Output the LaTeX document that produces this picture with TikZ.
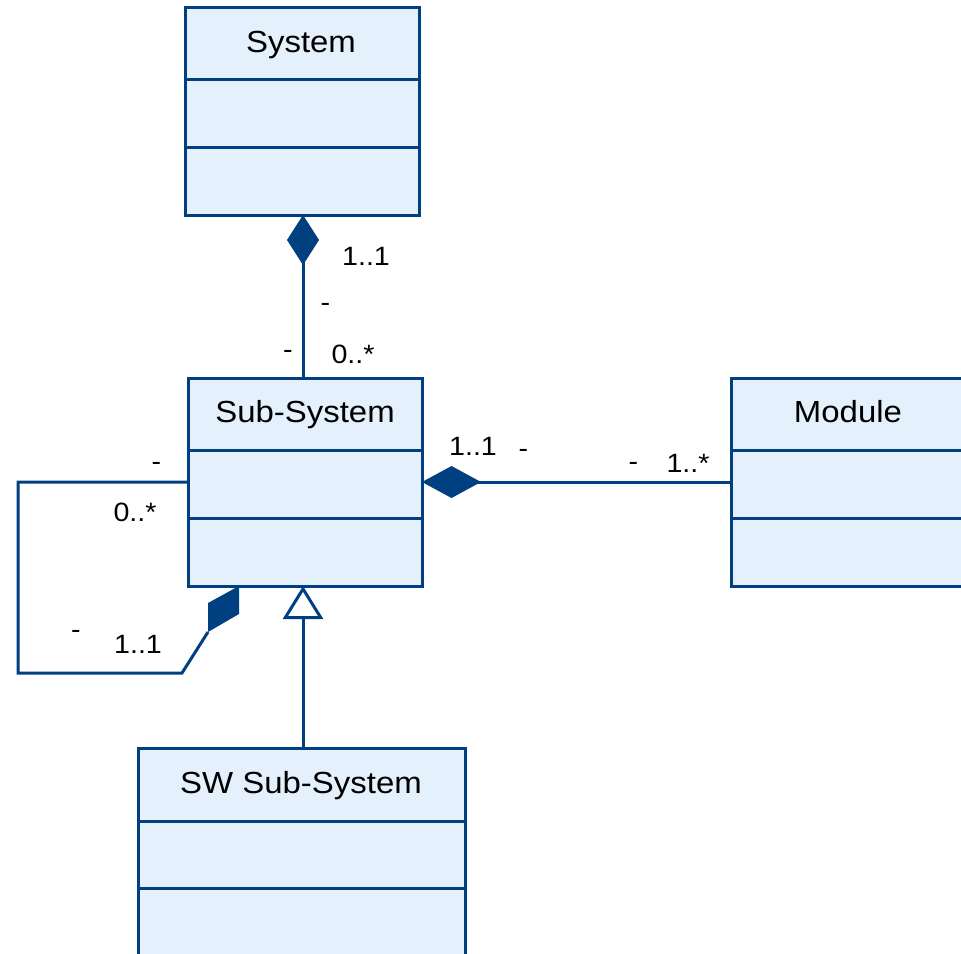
\documentclass[tikz,border=0pt]{standalone}
\usepackage{fontspec}
\setmainfont[FakeStretch=1.08]{Liberation Sans}
\usetikzlibrary{arrows.meta}
\definecolor{umlblue}{RGB}{0,64,128}
\definecolor{umlfill}{RGB}{229,240,253}
\tikzset{
  classbox/.style={draw=umlblue, fill=umlfill, line width=3pt, inner sep=0pt, outer sep=0pt,
    minimum width=234pt, minimum height=208pt},
  classname/.style={anchor=base, inner sep=0pt, font=\fontsize{30.5}{36}\selectfont},
  mult/.style={anchor=base, inner sep=0pt, font=\fontsize{26.5}{32}\selectfont},
  conn/.style={draw=umlblue, line width=3pt},
  compose/.style={-{Diamond[length=#1, width=32pt, line width=0pt, sharp]}},
  compose/.default=50pt,
  inherit/.style={-{Triangle[open, fill=white, length=33pt, width=40pt, line width=3pt, sharp]}},
}
\begin{document}
\begin{tikzpicture}[x=1pt, y=-1pt]
  \useasboundingbox (0,0) rectangle (961,953);
  \clip (0,0) rectangle (961,953);

  % class boxes
  \node[classbox] (sys) at (302,111) {};
  \node[classbox] (sub) at (305,482) {};
  \node[classbox] (mod) at (848,482) {};
  \node[classbox, minimum width=327pt] (sw) at (301.5,852) {};

  % compartment separators
  \foreach \b/\ya/\yb in {sys/79/147, sub/450/518, mod/450/518, sw/821/888} {
    \draw[conn] (\b.west |- 0,\ya) -- (\b.east |- 0,\ya);
    \draw[conn] (\b.west |- 0,\yb) -- (\b.east |- 0,\yb);
  }

  % class names
  \node[classname] (sysname) at (301,52) {System};
  \node[classname] (subname) at (305,422) {Sub-System};
  \node[classname] (modname) at (848,422) {Module};
  \node[classname] (swname) at (301,793) {SW Sub-System};

  % System <>-- Sub-System
  \coordinate (sysjoin) at (303,215);
  \draw[conn, compose, umlblue] (sysjoin |- sub.north) -- (sysjoin);

  % Sub-System <>-- Module
  \draw[conn, compose=59pt, umlblue] (mod.west) -- (sub.east);

  % self composition loop of Sub-System
  \coordinate (loopa) at (18,673);
  \coordinate (loopb) at (182,673);
  \coordinate (loopc) at (208,632);
  \draw[conn, line join=miter] (sub.west) -| (loopa) -- (loopb) -- (loopc);
  \fill[umlblue] (loopc) -- (208,603) -- (239,586) -- (239,614) -- cycle;

  % SW Sub-System --|> Sub-System
  \coordinate (genjoin) at (303,586);
  \draw[conn, inherit, umlblue] (genjoin |- sw.north) -- (genjoin);

  % multiplicities and role markers
  \node[mult] (m1) at (366,265) {1..1};
  \node[mult] (m2) at (325.5,311) {-};
  \node[mult] (m3) at (288,358) {-};
  \node[mult] (m4) at (353,363) {0..*};
  \node[mult] (m5) at (473,455) {1..1};
  \node[mult] (m6) at (523.5,457) {-};
  \node[mult] (m7) at (633.5,470) {-};
  \node[mult] (m8) at (688,472) {1..*};
  \node[mult] (m9) at (156.5,470) {-};
  \node[mult] (m10) at (135,521) {0..*};
  \node[mult] (m11) at (76,638) {-};
  \node[mult] (m12) at (138,653) {1..1};
\end{tikzpicture}
\end{document}
